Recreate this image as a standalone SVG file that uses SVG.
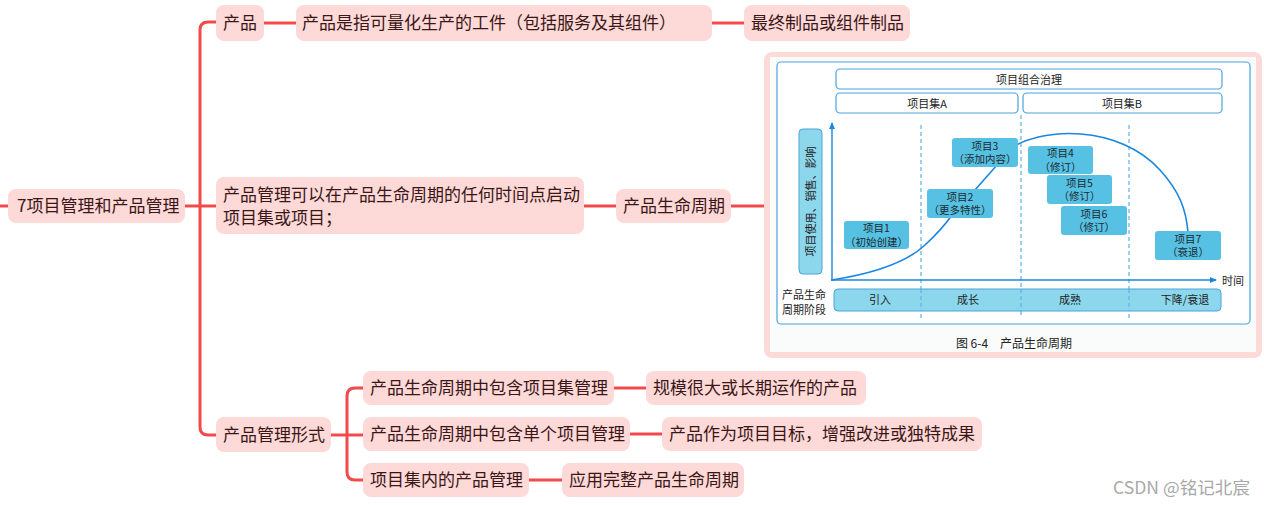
<svg xmlns="http://www.w3.org/2000/svg" width="1264" height="505" viewBox="0 0 1264 505">
<defs>
<style>
.n{fill:#fdd9d8;}
.t{font-family:"Noto Sans CJK SC","Noto Sans",sans-serif;font-size:17px;fill:#3a1616;}
.c{fill:none;stroke:#f24a4a;stroke-width:3;}
.fb{fill:#ffffff;stroke:#4aa3dc;stroke-width:1.2;}
.pb{fill:#56c1e3;}
.lb{fill:#8dd7ec;stroke:#4aa3dc;stroke-width:1;}
.ft{font-family:"Noto Sans CJK SC","Noto Sans",sans-serif;font-size:11px;fill:#222;text-anchor:middle;}
.pt{font-family:"Noto Sans CJK SC","Noto Sans",sans-serif;font-size:10.5px;fill:#1e2a30;text-anchor:middle;}
.dash{stroke:#5ab4e6;stroke-width:1.2;stroke-dasharray:4 3;}
.curve{fill:none;stroke:#1b86e0;stroke-width:1.6;}
</style>
<marker id="ah" markerWidth="8" markerHeight="8" refX="6" refY="4" orient="auto" markerUnits="userSpaceOnUse">
<path d="M0,1 L7,4 L0,7 Z" fill="#1b86e0"/>
</marker>
</defs>
<rect width="1264" height="505" fill="#ffffff"/>

<g id="connectors">
<path class="c" d="M0,206 H8"/>
<path class="c" d="M185,206 H216"/>
<path class="c" d="M216,22 H208 Q200,22 200,30 V427 Q200,435 208,435 H216"/>
<path class="c" d="M264,23 H296"/>
<path class="c" d="M712,23 H744"/>
<path class="c" d="M584,206 H616"/>
<path class="c" d="M731,206 H764"/>
<path class="c" d="M331,435 H363"/>
<path class="c" d="M363,388 H355 Q347,388 347,396 V472 Q347,480 355,480 H363"/>
<path class="c" d="M614,388 H646"/>
<path class="c" d="M630,434 H662"/>
<path class="c" d="M529,480 H562"/>
</g>

<g id="root">
<rect class="n" x="8" y="189" width="177" height="34" rx="8"/>
<text class="t" x="17" y="212">7项目管理和产品管理</text>
</g>
<g id="n-product">
<rect class="n" x="216" y="5" width="48" height="36" rx="8"/>
<text class="t" x="223" y="29">产品</text>
</g>
<g id="n-def">
<rect class="n" x="296" y="5" width="416" height="36" rx="8"/>
<text class="t" x="302" y="29">产品是指可量化生产的工件（包括服务及其组件）</text>
</g>
<g id="n-final">
<rect class="n" x="744" y="5" width="166" height="36" rx="8"/>
<text class="t" x="751" y="29">最终制品或组件制品</text>
</g>
<g id="n-start">
<rect class="n" x="216" y="177" width="368" height="57" rx="8"/>
<text class="t" x="223" y="201">产品管理可以在产品生命周期的任何时间点启动</text>
<text class="t" x="223" y="224">项目集或项目；</text>
</g>
<g id="n-plc">
<rect class="n" x="616" y="189" width="115" height="34" rx="8"/>
<text class="t" x="623" y="212">产品生命周期</text>
</g>

<g id="n-figure">
<rect class="n" x="764" y="52" width="498" height="306" rx="8"/>
<rect x="770" y="57" width="486" height="295" fill="#fafbfb"/>
<rect class="fb" x="777" y="62" width="473" height="262" rx="4" fill="#fcfdfd"/>
<rect class="fb" x="836" y="69" width="386" height="20" rx="4"/>
<text class="ft" x="1029" y="83.5">项目组合治理</text>
<rect class="fb" x="836" y="93" width="182" height="20" rx="4"/>
<text class="ft" x="927" y="107.5">项目集A</text>
<rect class="fb" x="1023" y="93" width="199" height="20" rx="4"/>
<text class="ft" x="1122" y="107.5">项目集B</text>

<line class="dash" x1="921" y1="125" x2="921" y2="318"/>
<line class="dash" x1="1021" y1="115" x2="1021" y2="318"/>
<line class="dash" x1="1129" y1="125" x2="1129" y2="318"/>

<rect class="lb" x="799" y="129" width="23" height="145" rx="4"/>
<text class="ft" transform="translate(814.5,201.5) rotate(-90)" x="0" y="0">项目使用、销售、影响</text>

<line x1="832" y1="281" x2="832" y2="123" stroke="#1b86e0" stroke-width="1.4" marker-end="url(#ah)"/>
<line x1="831" y1="280" x2="1216" y2="280" stroke="#1b86e0" stroke-width="1.4" marker-end="url(#ah)"/>
<text class="ft" x="1233" y="285">时间</text>

<path class="curve" d="M832,280 C870,274 905,264 925,245 C938,233 945,225 952,215"/>
<path class="curve" d="M975,190 L997,165"/>
<path class="curve" d="M1005,152 C1040,125 1120,125 1160,170 C1180,192 1186,210 1188,232"/>

<rect class="pb" x="844" y="221" width="65" height="28" rx="3"/>
<text class="pt" x="876.5" y="232">项目1</text>
<text class="pt" x="876.5" y="245.5">（初始创建）</text>
<rect class="pb" x="927" y="189" width="66" height="29" rx="3"/>
<text class="pt" x="960" y="200.5">项目2</text>
<text class="pt" x="960" y="214">（更多特性）</text>
<rect class="pb" x="952" y="138" width="66" height="29" rx="3"/>
<text class="pt" x="985" y="149.5">项目3</text>
<text class="pt" x="985" y="163">（添加内容）</text>
<rect class="pb" x="1028" y="146" width="65" height="28" rx="3"/>
<text class="pt" x="1060.5" y="157">项目4</text>
<text class="pt" x="1060.5" y="170.5">（修订）</text>
<rect class="pb" x="1047" y="175" width="65" height="29" rx="3"/>
<text class="pt" x="1079.5" y="186.5">项目5</text>
<text class="pt" x="1079.5" y="200">（修订）</text>
<rect class="pb" x="1061" y="206" width="66" height="29" rx="3"/>
<text class="pt" x="1094" y="217.5">项目6</text>
<text class="pt" x="1094" y="231">（修订）</text>
<rect class="pb" x="1155" y="231" width="66" height="29" rx="3"/>
<text class="pt" x="1188" y="242.5">项目7</text>
<text class="pt" x="1188" y="256">（衰退）</text>

<rect class="lb" x="834" y="289" width="387" height="22" rx="4"/>
<line class="dash" x1="921" y1="289" x2="921" y2="311"/>
<line class="dash" x1="1021" y1="289" x2="1021" y2="311"/>
<line class="dash" x1="1129" y1="289" x2="1129" y2="311"/>
<text class="ft" x="880" y="304">引入</text>
<text class="ft" x="968" y="304">成长</text>
<text class="ft" x="1070" y="304">成熟</text>
<text class="ft" x="1185" y="304">下降/衰退</text>
<text class="ft" x="804" y="299">产品生命</text>
<text class="ft" x="804" y="314">周期阶段</text>
<text class="ft" x="972" y="348" style="font-size:12px">图 6-4</text>
<text class="ft" x="1036" y="348" style="font-size:12px">产品生命周期</text>
</g>

<g id="n-forms">
<rect class="n" x="216" y="417" width="115" height="35" rx="8"/>
<text class="t" x="223" y="441">产品管理形式</text>
</g>
<g id="n-f1">
<rect class="n" x="363" y="371" width="251" height="34" rx="8"/>
<text class="t" x="370" y="394">产品生命周期中包含项目集管理</text>
</g>
<g id="n-f1a">
<rect class="n" x="646" y="371" width="220" height="34" rx="8"/>
<text class="t" x="653" y="394">规模很大或长期运作的产品</text>
</g>
<g id="n-f2">
<rect class="n" x="363" y="417" width="267" height="34" rx="8"/>
<text class="t" x="370" y="440">产品生命周期中包含单个项目管理</text>
</g>
<g id="n-f2a">
<rect class="n" x="662" y="417" width="320" height="34" rx="8"/>
<text class="t" x="669" y="440">产品作为项目目标，增强改进或独特成果</text>
</g>
<g id="n-f3">
<rect class="n" x="363" y="463" width="166" height="34" rx="8"/>
<text class="t" x="370" y="486">项目集内的产品管理</text>
</g>
<g id="n-f3a">
<rect class="n" x="562" y="463" width="182" height="34" rx="8"/>
<text class="t" x="569" y="486">应用完整产品生命周期</text>
</g>

<text x="1113" y="494" textLength="137" lengthAdjust="spacingAndGlyphs" style="font-family:'Noto Sans CJK SC','Noto Sans',sans-serif;font-size:17px;fill:#a8a8a8">CSDN @铭记北宸</text>
</svg>
